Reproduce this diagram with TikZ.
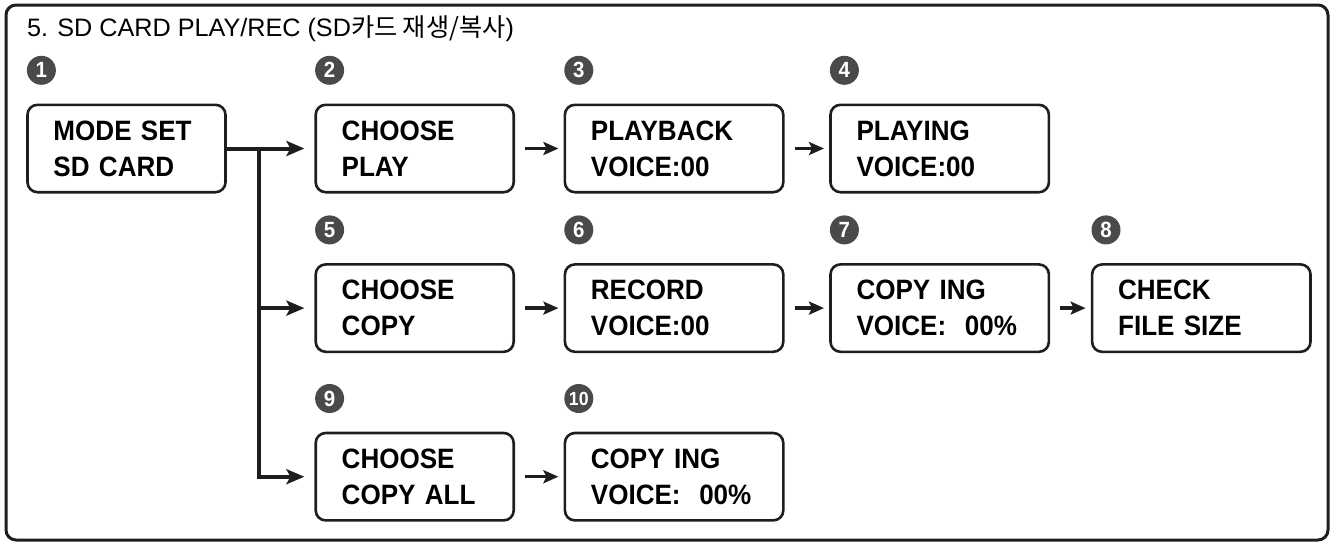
\documentclass[tikz,border=0pt]{standalone}
\usepackage{fontspec}
\setmainfont{Liberation Sans}
\newfontfamily\boxfont[FakeStretch=0.93]{Liberation Sans}
\newfontfamily\krfont{Noto Sans CJK KR}
\usepackage{tikz}
\usetikzlibrary{positioning}
\usetikzlibrary{arrows.meta}
\definecolor{ink}{HTML}{1E1E1E}
\definecolor{badgegray}{HTML}{4A4A4A}
\tikzstyle{screen} = [rectangle, rounded corners=5pt, minimum height=43.7pt, text width=73pt, inner xsep=13pt, align=left, draw=ink, line width=1.3pt, font=\boxfont\fontsize{14}{18}\selectfont\bfseries]
\tikzstyle{wide} = [screen, text width=83.2pt]
\tikzstyle{badge} = [circle, fill=badgegray, text=white, minimum size=14.5pt, inner sep=0pt, font=\boxfont\fontsize{11}{11}\selectfont\bfseries]
\tikzstyle{arrow} = [line width=1.7pt, draw=ink, -{Stealth[length=7.5pt,width=6.5pt,inset=1.5pt]}, shorten <=5pt, shorten >=2.6pt]
\tikzstyle{trunk} = [line width=2pt, draw=ink, -{Stealth[length=9pt,width=7.5pt,inset=2pt]}, shorten >=5pt]

\begin{document}
\begin{tikzpicture}
	\useasboundingbox (0,0) rectangle (667pt,-271pt);
	\draw[line width=1.5pt, rounded corners=5pt, draw=ink] (3pt,-2.5pt) rectangle (664pt,-270pt);
	\node[anchor=base west, font=\fontsize{12.6}{14}\selectfont] (title) at (10pt,-18pt) {5. SD CARD PLAY/REC (SD{\krfont 카드 재생/복사})};

	% first row
	\node (mode) [screen] at (63.25pt,-74.25pt) {MODE SET\\SD CARD};
	\node (play) [screen, right=43.8pt of mode] {CHOOSE\\PLAY};
	\node (playback) [wide, right=24.3pt of play] {PLAYBACK\\VOICE:00};
	\node (playing) [wide, right=22.3pt of playback] {PLAYING\\VOICE:00};

	% second row
	\node (copy) [screen, below=34.8pt of play] {CHOOSE\\COPY};
	\node (record) [wide, right=24.3pt of copy] {RECORD\\VOICE:00};
	\node (copying) [wide, right=22.3pt of record] {COPY ING\\VOICE:\ \ 00\%};
	\node (check) [wide, right=20.3pt of copying] {CHECK\\FILE SIZE};

	% third row
	\node (copyall) [screen, below=39.3pt of copy] {CHOOSE\\COPY ALL};
	\node (copyingall) [wide, right=24.3pt of copyall] {COPY ING\\VOICE:\ \ 00\%};

	% step numbers
	\node[badge] (n1) at ([shift={(7.6pt,16.6pt)}]mode.north west) {1};
	\node[badge] (n2) at ([shift={(7.6pt,16.6pt)}]play.north west) {2};
	\node[badge] (n3) at ([shift={(7.6pt,16.6pt)}]playback.north west) {3};
	\node[badge] (n4) at ([shift={(7.6pt,16.6pt)}]playing.north west) {4};
	\node[badge] (n5) at ([shift={(7.6pt,16.6pt)}]copy.north west) {5};
	\node[badge] (n6) at ([shift={(7.6pt,16.6pt)}]record.north west) {6};
	\node[badge] (n7) at ([shift={(7.6pt,16.6pt)}]copying.north west) {7};
	\node[badge] (n8) at ([shift={(7.6pt,16.6pt)}]check.north west) {8};
	\node[badge] (n9) at ([shift={(7.6pt,16.6pt)}]copyall.north west) {9};
	\node[badge] (n10) at ([shift={(7.6pt,16.6pt)}]copyingall.north west) {\fontsize{9.5}{10}\selectfont 10};

	\coordinate[right=16.15pt of mode.east] (split);

	\draw [trunk] (mode) -- (play);
	\draw [trunk] (split) |- (copy);
	\draw [trunk] (split) |- (copyall);
	\draw [arrow] (play) -- (playback);
	\draw [arrow] (playback) -- (playing);
	\draw [arrow] (copy) -- (record);
	\draw [arrow] (record) -- (copying);
	\draw [arrow] (copying) -- (check);
	\draw [arrow] (copyall) -- (copyingall);

\end{tikzpicture}
\end{document}
